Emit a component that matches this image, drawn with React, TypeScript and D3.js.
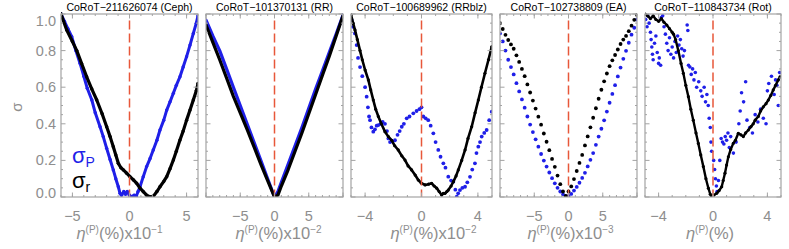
import React from "react";
import * as d3 from "d3";

type P = [number, number];

const titles = [
  "CoRoT−211626074 (Ceph)",
  "CoRoT−101370131 (RR)",
  "CoRoT−100689962 (RRblz)",
  "CoRoT−102738809 (EA)",
  "CoRoT−110843734 (Rot)",
];
const xDomains: [number, number][] = [[-6, 6], [-10, 10], [-5, 5], [-10, 10], [-5, 5]];
const xMajorStep = [5, 5, 4, 5, 4];
const xExponents = ["−1", "−2", "−2", "−3", ""];
const yTickValues = [0, 0.2, 0.4, 0.6, 0.8, 1.0];

// Panel 1 (Ceph)
const cephBlue: P[] = [[-6.0,1.0],[-5.7,0.96],[-5.4,0.92],[-5.06,0.876],[-4.7,0.80],[-4.33,0.73],[-4.0,0.66],[-3.7,0.594],[-3.3,0.53],[-3.0,0.46],[-2.58,0.384],[-2.3,0.33],[-2.0,0.266],[-1.7,0.205],[-1.42,0.148],[-1.2,0.10],[-0.98,0.056],[-0.83,0.02],[-0.7,0.01],[-0.5,0.03],[-0.35,0.015],[-0.2,0.03],[0.0,0.01],[0.2,0.0],[0.4,0.01],[0.6,0.005],[0.75,0.03],[0.92,0.056],[1.2,0.11],[1.5,0.166],[1.8,0.21],[2.08,0.257],[2.4,0.31],[2.67,0.366],[3.0,0.42],[3.26,0.475],[3.55,0.52],[3.84,0.567],[4.1,0.61],[4.42,0.657],[4.7,0.71],[5.0,0.767],[5.3,0.83],[5.59,0.894],[5.85,0.95],[6.0,0.99]];
const cephBlack: P[] = [[-6.0,1.0],[-5.5,0.913],[-5.0,0.85],[-4.62,0.80],[-4.2,0.73],[-3.75,0.657],[-3.3,0.59],[-2.87,0.53],[-2.4,0.455],[-2.0,0.384],[-1.7,0.33],[-1.42,0.275],[-1.2,0.23],[-0.98,0.184],[-0.75,0.16],[-0.54,0.148],[-0.25,0.13],[0.04,0.111],[0.35,0.093],[0.63,0.075],[0.9,0.05],[1.21,0.029],[1.5,0.01],[1.8,0.0],[2.1,0.005],[2.4,0.03],[2.67,0.056],[3.0,0.085],[3.26,0.111],[3.55,0.155],[3.84,0.202],[4.1,0.25],[4.42,0.311],[4.7,0.36],[5.0,0.42],[5.3,0.475],[5.59,0.53],[5.85,0.58],[6.0,0.62]];

// Panel 2 (RR)
const rrBlue: P[] = [[-10,0.967],[-9,0.88],[-8,0.80],[-7,0.70],[-6,0.60],[-5,0.50],[-4,0.40],[-3,0.30],[-2,0.20],[-1,0.10],[0,0.0],[0.5,0.03],[1,0.08],[2,0.18],[3,0.28],[4,0.38],[5,0.485],[6,0.59],[7,0.69],[8,0.79],[9,0.89],[10,0.995]];
const rrBlack: P[] = [[-10,0.94],[-9,0.845],[-8,0.75],[-7,0.65],[-6,0.55],[-5,0.46],[-4,0.37],[-3,0.275],[-2,0.18],[-1,0.09],[0,0.0],[0.5,0.01],[1,0.06],[2,0.15],[3,0.25],[4,0.35],[5,0.455],[6,0.56],[7,0.665],[8,0.77],[9,0.88],[10,0.99]];

// Panel 3 (RRblz)
const rrbBlue: P[] = [[-4.95,0.967],[-4.85,0.93],[-4.72,0.894],[-4.6,0.83],[-4.5,0.76],[-4.36,0.71],[-4.2,0.66],[-4.0,0.60],[-3.89,0.548],[-3.8,0.49],[-3.72,0.44],[-3.65,0.42],[-3.55,0.38],[-3.42,0.357],[-3.3,0.37],[-3.18,0.39],[-3.06,0.393],[-2.9,0.40],[-2.75,0.41],[-2.59,0.40],[-2.45,0.36],[-2.35,0.32],[-2.23,0.30],[-2.1,0.305],[-1.88,0.31],[-1.7,0.34],[-1.55,0.36],[-1.4,0.384],[-1.25,0.40],[-1.05,0.43],[-0.85,0.44],[-0.58,0.457],[-0.35,0.47],[-0.15,0.48],[0.0,0.49],[0.13,0.44],[0.3,0.43],[0.48,0.42],[0.65,0.39],[0.84,0.348],[1.0,0.30],[1.19,0.257],[1.35,0.22],[1.55,0.184],[1.7,0.16],[1.9,0.111],[2.1,0.09],[2.26,0.084],[2.4,0.04],[2.5,0.002],[2.6,0.02],[2.73,0.038],[2.9,0.05],[3.09,0.056],[3.25,0.08],[3.44,0.11],[3.6,0.15],[3.79,0.184],[3.9,0.24],[4.03,0.275],[4.15,0.30],[4.27,0.33],[4.45,0.35],[4.62,0.366],[4.8,0.42],[4.98,0.466]];
const rrbBlack: P[] = [[-5.0,0.995],[-4.85,0.95],[-4.72,0.913],[-4.55,0.86],[-4.36,0.80],[-4.2,0.75],[-4.0,0.694],[-3.77,0.64],[-3.6,0.585],[-3.42,0.53],[-3.25,0.48],[-3.06,0.44],[-2.85,0.40],[-2.59,0.357],[-2.35,0.33],[-2.11,0.31],[-1.9,0.28],[-1.65,0.257],[-1.4,0.225],[-1.17,0.202],[-0.95,0.17],[-0.7,0.148],[-0.45,0.12],[-0.23,0.093],[0.0,0.075],[0.25,0.066],[0.5,0.07],[0.72,0.075],[0.9,0.06],[1.08,0.048],[1.25,0.03],[1.43,0.011],[1.55,0.02],[1.67,0.02],[1.8,0.03],[1.9,0.038],[2.1,0.06],[2.26,0.084],[2.45,0.115],[2.61,0.148],[2.85,0.2],[3.09,0.257],[3.3,0.32],[3.56,0.384],[3.8,0.46],[4.03,0.53],[4.25,0.6],[4.5,0.676],[4.75,0.75],[4.98,0.82]];

// Panel 4 (EA)
const eaX = [-10,-9.6,-9.2,-8.8,-8.4,-8.0,-7.6,-7.2,-6.8,-6.4,-6.0,-5.6,-5.2,-4.8,-4.4,-4.0,-3.6,-3.2,-2.8,-2.4,-2.0,-1.6,-1.2,-0.8,-0.4,0,0.4,0.8,1.2,1.6,2.0,2.4,2.8,3.2,3.6,4.0,4.4,4.8,5.2,5.6,6.0,6.4,6.8,7.2,7.6,8.0,8.4,8.8,9.2,9.6,10];
const eaBlue = [0.894,0.85,0.80,0.75,0.71,0.67,0.622,0.577,0.533,0.488,0.44,0.396,0.355,0.315,0.275,0.235,0.199,0.166,0.134,0.103,0.075,0.05,0.03,0.014,0.004,0.005,0.017,0.035,0.055,0.078,0.104,0.132,0.167,0.203,0.24,0.285,0.33,0.373,0.419,0.467,0.515,0.563,0.611,0.659,0.707,0.755,0.799,0.843,0.887,0.925,0.97];
const eaBlack = [0.95,0.918,0.886,0.858,0.834,0.81,0.774,0.738,0.70,0.66,0.615,0.571,0.527,0.483,0.439,0.395,0.347,0.302,0.256,0.208,0.165,0.117,0.07,0.03,0.006,0.03,0.058,0.098,0.142,0.186,0.23,0.282,0.331,0.381,0.433,0.485,0.537,0.586,0.632,0.675,0.715,0.747,0.776,0.806,0.836,0.86,0.88,0.906,0.936,0.968,0.995];

// Panel 5 (Rot)
const rotBlue: P[] = [[-4.95,0.97],[-4.85,0.93],[-4.8,0.99],[-4.7,0.95],[-4.6,0.90],[-4.55,0.86],[-4.5,0.82],[-4.45,0.78],[-4.4,0.75],[-4.3,0.84],[-4.2,0.88],[-4.1,0.79],[-4.0,0.73],[-3.95,0.76],[-3.85,0.72],[-3.8,0.98],[-3.7,0.99],[-3.6,0.93],[-3.5,0.89],[-3.4,0.84],[-3.3,0.80],[-3.2,0.87],[-3.1,0.78],[-3.0,0.82],[-2.9,0.76],[-2.8,0.85],[-2.7,0.79],[-2.6,0.88],[-2.5,0.83],[-2.4,0.86],[-2.3,0.81],[-2.2,0.77],[-2.1,0.80],[-1.9,0.94],[-1.85,0.91],[-1.8,0.72],[-1.7,0.71],[-1.6,0.67],[-1.5,0.70],[-1.4,0.64],[-1.3,0.68],[-1.2,0.60],[-1.05,0.63],[-0.9,0.58],[-0.8,0.55],[-0.65,0.60],[-0.55,0.52],[-0.45,0.56],[-0.35,0.50],[-0.28,0.43],[-0.2,0.38],[-0.15,0.30],[-0.1,0.25],[0.05,0.20],[0.12,0.15],[0.18,0.10],[0.25,0.06],[0.3,0.03],[0.4,0.09],[0.5,0.20],[0.6,0.32],[0.7,0.30],[0.8,0.29],[0.9,0.33],[1.0,0.31],[1.1,0.35],[1.2,0.27],[1.3,0.33],[1.5,0.24],[1.7,0.30],[1.9,0.40],[2.0,0.47],[2.1,0.57],[2.25,0.52],[2.4,0.63],[2.5,0.42],[2.7,0.38],[2.9,0.35],[3.1,0.45],[3.3,0.41],[3.5,0.48],[3.7,0.43],[3.9,0.40],[4.0,0.58],[4.1,0.62],[4.3,0.66],[4.5,0.56],[4.6,0.64],[4.7,0.61],[4.8,0.50],[4.9,0.68]];
const rotBlack: P[] = [[-5.0,1.0],[-4.8,0.99],[-4.6,0.975],[-4.4,0.99],[-4.2,0.97],[-4.0,0.96],[-3.8,0.975],[-3.6,0.955],[-3.4,0.94],[-3.2,0.92],[-3.0,0.90],[-2.9,0.89],[-2.75,0.86],[-2.55,0.80],[-2.35,0.73],[-2.18,0.676],[-2.0,0.61],[-1.81,0.548],[-1.63,0.48],[-1.45,0.42],[-1.25,0.35],[-1.08,0.293],[-0.9,0.23],[-0.71,0.166],[-0.52,0.10],[-0.34,0.048],[-0.2,0.015],[-0.1,0.0],[0.05,0.01],[0.27,0.02],[0.45,0.035],[0.64,0.056],[0.75,0.09],[0.88,0.13],[1.0,0.175],[1.13,0.22],[1.3,0.26],[1.49,0.293],[1.65,0.31],[1.86,0.348],[2.05,0.34],[2.23,0.33],[2.4,0.35],[2.6,0.366],[2.8,0.385],[2.96,0.40],[3.1,0.42],[3.33,0.44],[3.5,0.47],[3.7,0.493],[3.9,0.51],[4.07,0.53],[4.25,0.555],[4.43,0.585],[4.6,0.61],[4.8,0.64],[4.93,0.657]];

const W = 789, H = 249;
const TOP = 14, BOTTOM = 197;
const panelLeft = [61, 206, 351, 500, 645];
const panelRight = [198, 343, 492, 637, 781];
const titleShift = [-10, 4, 12, 2, -3];
const BLUE = "#1f1fe8";
const GRAY = "#8e8e8e";
const FRAME = "#a3a3a3";
const RED = "#e8573a";
const FONT = "'Liberation Sans', Arial, sans-serif";

interface Series { data: P[]; color: string; line: number; r: number; }

const zip = (xs: number[], ys: number[]): P[] => xs.map((x, i) => [x, ys[i]]);

const panels: Series[][] = [
  [ { data: cephBlue, color: BLUE, line: 3, r: 1.7 }, { data: cephBlack, color: "#000", line: 3.2, r: 1.7 } ],
  [ { data: rrBlue, color: BLUE, line: 3.2, r: 0 }, { data: rrBlack, color: "#000", line: 3.2, r: 0 } ],
  [ { data: rrbBlue, color: BLUE, line: 0, r: 1.9 }, { data: rrbBlack, color: "#000", line: 2.6, r: 1.6 } ],
  [ { data: zip(eaX, eaBlue), color: BLUE, line: 0, r: 1.9 }, { data: zip(eaX, eaBlack), color: "#000", line: 0, r: 1.9 } ],
  [ { data: rotBlue, color: BLUE, line: 0, r: 1.8 }, { data: rotBlack, color: "#000", line: 2.4, r: 1.6 } ],
];

export default function App() {
  const y = d3.scaleLinear().domain([0, 1]).range([BOTTOM, TOP]);
  const yMinor = d3.range(0, 1.0001, 0.05);
  return (
    <svg width={W} height={H} style={{ position: "absolute", left: 0, top: 0, background: "#fff" }} fontFamily={FONT}>
      <defs>
        {panelLeft.map((l, i) => (
          <clipPath id={`clip${i}`} key={i}>
            <rect x={l} y={TOP - 2} width={panelRight[i] - l} height={BOTTOM - TOP + 2} />
          </clipPath>
        ))}
      </defs>
      {/* y label */}
      <text x={22} y={107} transform="rotate(-90 22 107)" textAnchor="middle" fontSize={15} fill={GRAY}>σ</text>
      {/* y tick labels */}
      {yTickValues.map((v, i) => {
        const off = v === 0 ? -4 : v === 1 ? 7 : 0;
        return (
          <text key={i} x={56} y={y(v) + off + 5} textAnchor="end" fontSize={14.5} fill={GRAY}>{v.toFixed(1)}</text>
        );
      })}
      {panels.map((series, pi) => {
        const l = panelLeft[pi], r = panelRight[pi];
        const x = d3.scaleLinear().domain(xDomains[pi]).range([l, r]);
        const [d0, d1] = xDomains[pi];
        const majors = d3.range(Math.ceil(d0 / xMajorStep[pi]) * xMajorStep[pi], d1 + 0.001, xMajorStep[pi]);
        const minors = d3.range(Math.ceil(d0), d1 + 0.001, 1);
        const line = d3.line<P>().x(d => x(d[0])).y(d => y(d[1]));
        const cx = (l + r) / 2 + titleShift[pi];
        return (
          <g key={pi}>
            <g clipPath={`url(#clip${pi})`}>
              {series.map((s, si) => (
                <g key={si}>
                  {s.line > 0 && (
                    <path d={line(s.data) || ""} fill="none" stroke={s.color} strokeWidth={s.line} strokeLinejoin="round" strokeLinecap="round" />
                  )}
                  {s.r > 0 && s.data.map((d, k) => (
                    <circle key={k} cx={x(d[0])} cy={y(d[1])} r={s.r} fill={s.color} />
                  ))}
                </g>
              ))}
            </g>
            {/* red dashed zero line */}
            <line x1={x(0)} x2={x(0)} y1={y(0.965)} y2={y(0)} stroke={RED} strokeWidth={1.5} strokeDasharray="9,4" />
            {/* frame */}
            <rect x={l} y={TOP} width={r - l} height={BOTTOM - TOP} fill="none" stroke={FRAME} strokeWidth={1.2} />
            {/* x ticks */}
            {minors.map((v, k) => (
              <g key={"xm" + k}>
                <line x1={x(v)} x2={x(v)} y1={BOTTOM} y2={BOTTOM - 2} stroke={FRAME} />
                <line x1={x(v)} x2={x(v)} y1={TOP} y2={TOP + 2} stroke={FRAME} />
              </g>
            ))}
            {majors.map((v, k) => {
              const edge = Math.abs(v - d0) < 1e-6 || Math.abs(v - d1) < 1e-6;
              return (
                <g key={"xM" + k}>
                  <line x1={x(v)} x2={x(v)} y1={BOTTOM} y2={BOTTOM - 4.5} stroke={FRAME} />
                  <line x1={x(v)} x2={x(v)} y1={TOP} y2={TOP + 4.5} stroke={FRAME} />
                  {!edge && (
                    <text x={x(v)} y={221} textAnchor="middle" fontSize={14.5} fill={GRAY}>{v < 0 ? "−" + Math.abs(v) : String(v)}</text>
                  )}
                </g>
              );
            })}
            {/* y ticks */}
            {yMinor.map((v, k) => {
              const major = Math.abs(v / 0.2 - Math.round(v / 0.2)) < 1e-6;
              const len = major ? 4.5 : 2;
              return (
                <g key={"y" + k}>
                  <line x1={l} x2={l + len} y1={y(v)} y2={y(v)} stroke={FRAME} />
                  <line x1={r} x2={r - len} y1={y(v)} y2={y(v)} stroke={FRAME} />
                </g>
              );
            })}
            {/* panel title */}
            <text x={(l + r) / 2} y={10.5} textAnchor="middle" fontSize={10.5} fill="#000">{titles[pi]}</text>
            {/* x axis title */}
            <text x={cx} y={239} textAnchor="middle" fontSize={16.5} fill={GRAY}>
              <tspan fontStyle="italic">η</tspan>
              <tspan dy={-6} fontSize={10}>(P)</tspan>
              <tspan dy={6}>(%)</tspan>
              {xExponents[pi] && <tspan>x10</tspan>}
              {xExponents[pi] && <tspan dy={-6} fontSize={10}>{xExponents[pi]}</tspan>}
            </text>
          </g>
        );
      })}
      {/* legend */}
      <text x={72} y={163} fontSize={22} fill={BLUE}>σ<tspan fontSize={14} dy={4}>P</tspan></text>
      <text x={72} y={188} fontSize={22} fill="#000">σ<tspan fontSize={14} dy={4}>r</tspan></text>
    </svg>
  );
}
